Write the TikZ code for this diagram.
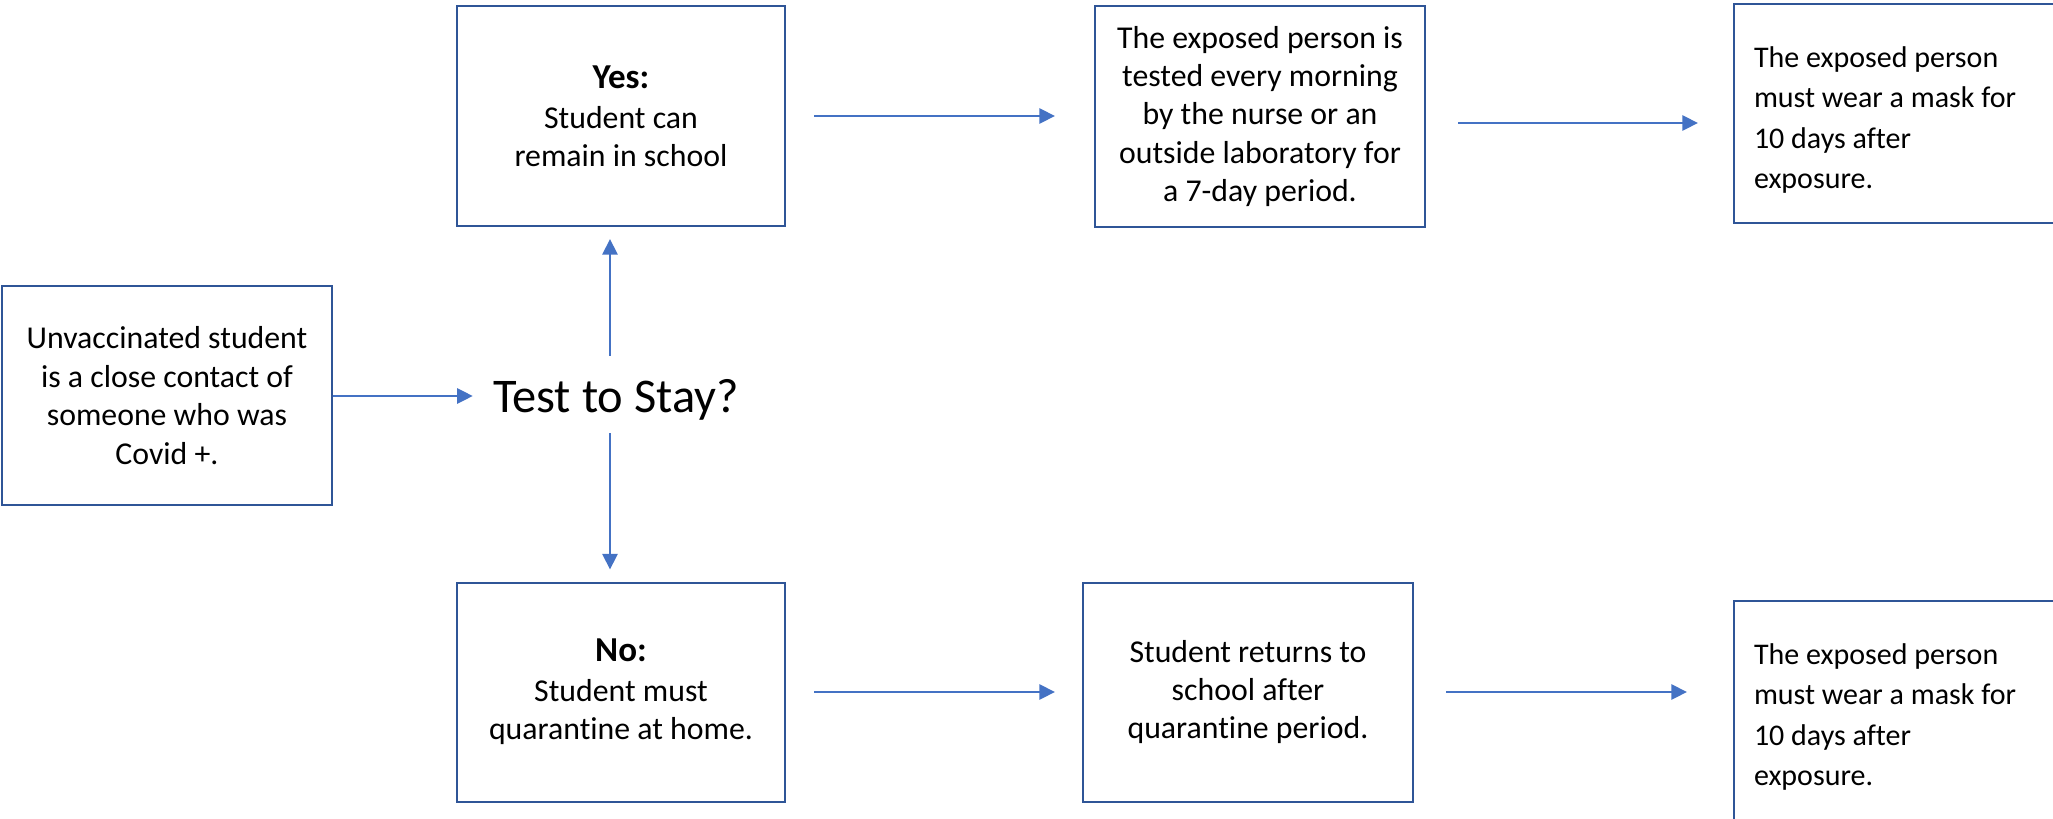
\documentclass[tikz,border=0pt]{standalone}
\usepackage{fontspec}
\usepackage{xcolor}
\setmainfont{Carlito}[Ligatures=CommonOff]
\usetikzlibrary{positioning,arrows.meta}

\definecolor{boxblue}{HTML}{2F5597}
\definecolor{arrblue}{HTML}{4472C4}

\begin{document}
\begin{tikzpicture}[x=0.5pt,y=-0.5pt,
    box/.style={draw=boxblue, line width=1pt, minimum width=165pt, minimum height=109.5pt, align=center, inner sep=4pt, font=\fontsize{15.9}{19.2}\selectfont, execute at begin node={\rule{0pt}{17pt}}},
    maskbox/.style={box, text width=170pt, align=flush left, inner xsep=10pt, font=\fontsize{15}{20.3}\selectfont, execute at begin node={\rule{0pt}{16.5pt}}},
    arr/.style={arrblue, line width=1.3pt, -{Triangle[length=7.8pt,width=7.5pt]}}]
    \useasboundingbox (0,0) rectangle (2053,819);

    % Start and question
    \node[box] (contact) at (167,395.5) {Unvaccinated student\\is a close contact of\\someone who was\\Covid +.};
    \node[anchor=base, font=\fontsize{24.2}{29}\selectfont, inner xsep=10pt, inner ysep=6.6pt] (test) at (616,412) {Test to Stay?};

    % Yes branch
    \node[box, minimum width=164pt, minimum height=110pt] (yes) at (621,116) {\textbf{\fontsize{17.5}{19.2}\selectfont Yes:}\\[0.8pt]Student can\\remain in school};
    \node[box, minimum height=110.5pt] (tested) at (1260,116.5) {The exposed person is\\tested every morning\\by the nurse or an\\outside laboratory for\\a 7-day period.};
    \node[maskbox, anchor=west] (masktop) at (1733,113.5) {The exposed person\\must wear a mask for\\10 days after\\exposure.};

    % No branch
    \node[box, minimum width=164pt] (no) at (621,692) {\textbf{\fontsize{17.5}{19.2}\selectfont No:}\\[0.8pt]Student must\\quarantine at home.};
    \node[box] (returns) at (1248,692) {Student returns to\\school after\\quarantine period.};
    \node[maskbox, anchor=west] (maskbot) at (1733,710.5) {The exposed person\\must wear a mask for\\10 days after\\exposure.};

    % Arrows
    \draw[arr] (contact.east |- 0,396) -- (test.west |- 0,396);
    \draw[arr, shorten <=4.9pt, shorten >=6pt] ([xshift=-3pt]test.north) -- ([xshift=-3pt]test.north |- yes.south);
    \draw[arr, shorten >=6pt] ([xshift=-3pt]test.south) -- ([xshift=-3pt]test.south |- no.north);
    \draw[arr, shorten <=14pt, shorten >=19.5pt] (yes.east) -- (yes.east -| tested.west);
    \draw[arr, shorten <=16pt, shorten >=17.5pt] ([yshift=-3.25pt]tested.east) -- ([yshift=-3.25pt]tested.east -| masktop.west);
    \draw[arr, shorten <=14pt, shorten >=13.5pt] (no.east) -- (no.east -| returns.west);
    \draw[arr, shorten <=16pt, shorten >=23pt] (returns.east) -- (returns.east -| maskbot.west);
\end{tikzpicture}
\end{document}
